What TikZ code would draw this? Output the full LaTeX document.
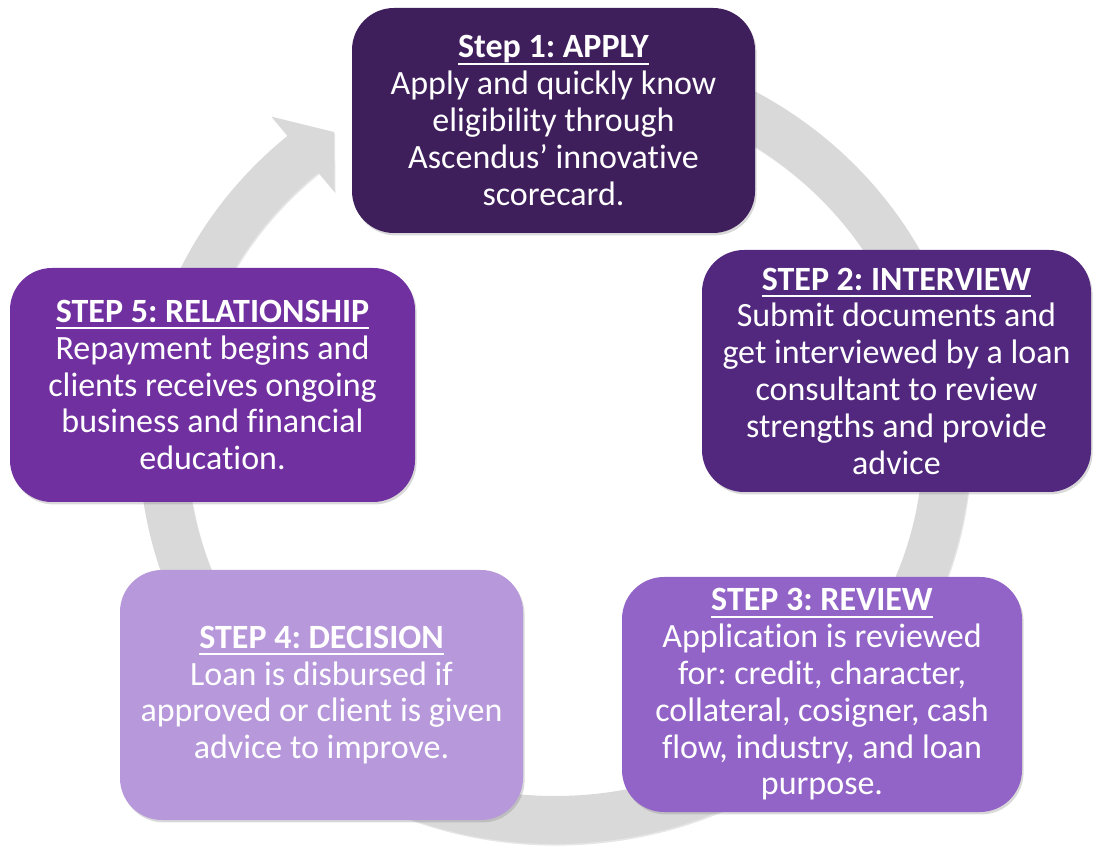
\documentclass[tikz,border=0pt]{standalone}
\usepackage{fontspec}
\setmainfont[Ligatures=NoCommon]{Carlito}
\usepackage{tikz}
\usetikzlibrary{shadows}
\definecolor{applyc}{HTML}{3F1E5C}
\definecolor{interviewc}{HTML}{51287E}
\definecolor{reviewc}{HTML}{9364C8}
\definecolor{decisionc}{HTML}{B698DB}
\definecolor{relationc}{HTML}{7030A0}
\definecolor{ringgray}{HTML}{D9D9D9}
\frenchspacing
% underlined bold heading of a step
\newcommand{\stephead}[1]{\setbox0\hbox{\textbf{#1}}\leavevmode\rlap{\raisebox{-3.5pt}{\rule{\wd0}{1pt}}}\box0}

\begin{document}
\begin{tikzpicture}[x=0.5pt, y=0.5pt, font=\fontsize{17}{18.4}\selectfont]
% Define styles
\tikzstyle{stepbox} = [rectangle, rounded corners=21pt, inner sep=0pt, align=center, text=white, drop shadow={opacity=0.3, shadow xshift=0.8pt, shadow yshift=-1.2pt}]
\tikzstyle{ring} = [fill=ringgray, drop shadow={opacity=0.2, shadow xshift=0.5pt, shadow yshift=-0.8pt}]
\useasboundingbox (0,0) rectangle (1093,847);
% Draw the cycle ring and its arrow head
\begin{scope}[shift={(555,404)}]
\fill[ring] (95:416 and 401) arc[start angle=95, end angle=-230, x radius=416, y radius=401]
  -- (130:441 and 426) -- (-221,311) -- (130:343 and 328) -- (130:368 and 353)
  arc[start angle=-230, end angle=95, x radius=368, y radius=353] -- cycle;
\end{scope}
% Place nodes
\node (apply) [stepbox, fill=applyc, minimum width=201.5pt, minimum height=112.5pt] at (553.5,726.5)
  {\stephead{Step 1: APPLY}\\Apply and quickly know\\eligibility through\\Ascendus’ innovative\\scorecard.};
\node (interview) [stepbox, fill=interviewc, minimum width=194.5pt, minimum height=121pt] at (896.5,476)
  {\stephead{STEP 2: INTERVIEW}\\Submit documents and\\get interviewed by a loan\\consultant to review\\strengths and provide\\advice};
\node (review) [stepbox, fill=reviewc, minimum width=200pt, minimum height=117.5pt] at (822,152.5)
  {\stephead{STEP 3: REVIEW}\\Application is reviewed\\for: credit, character,\\collateral, cosigner, cash\\flow, industry, and loan\\purpose.};
\node (decision) [stepbox, fill=decisionc, minimum width=201.5pt, minimum height=125pt] at (321.5,152)
  {\stephead{STEP 4: DECISION}\\Loan is disbursed if\\approved or client is given\\advice to improve.};
\node (relation) [stepbox, fill=relationc, minimum width=202.5pt, minimum height=117pt] at (212.5,462)
  {\stephead{STEP 5: RELATIONSHIP}\\Repayment begins and\\clients receives ongoing\\business and financial\\education.};
\end{tikzpicture}
\end{document}
